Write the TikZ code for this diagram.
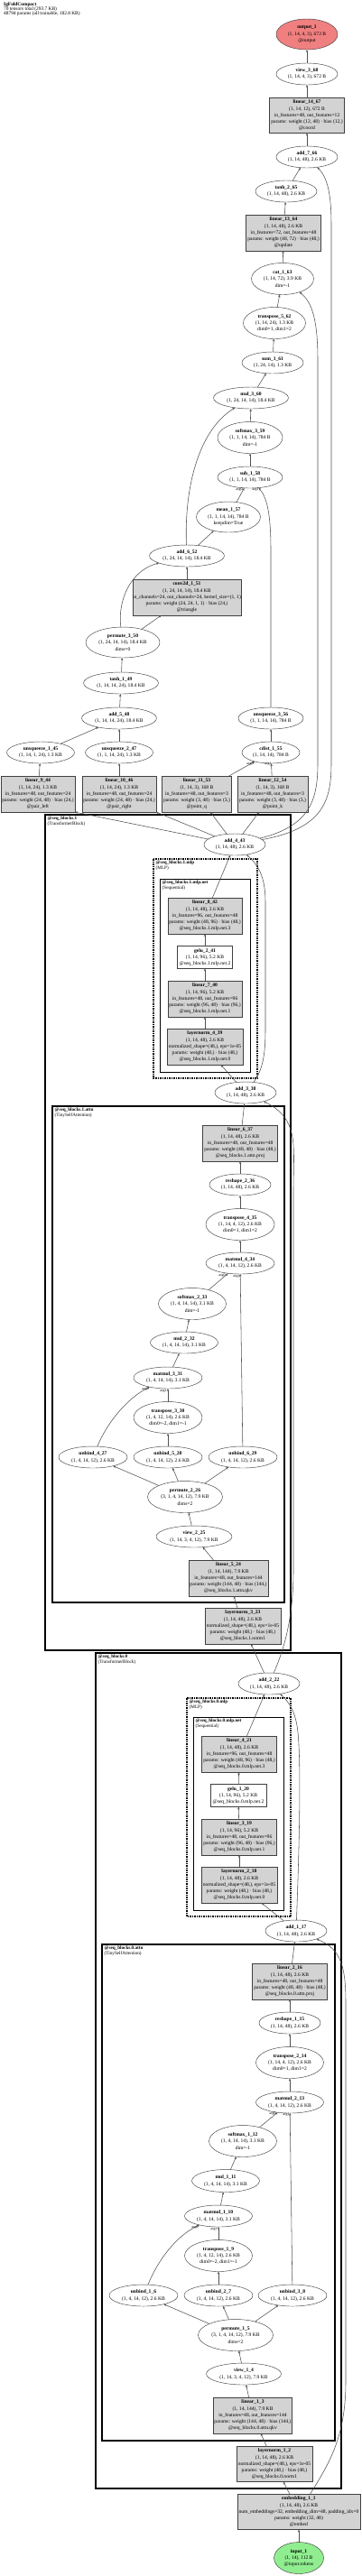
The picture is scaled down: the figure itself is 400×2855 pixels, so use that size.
\documentclass[tikz,border=0pt]{standalone}
\usepackage{fontspec}
\setmainfont{Liberation Serif}
\usetikzlibrary{shapes.geometric,arrows.meta}
\definecolor{gfill}{HTML}{D3D3D3}
\definecolor{redfill}{HTML}{F08080}
\definecolor{greenfill}{HTML}{90EE90}
\definecolor{edgec}{HTML}{505050}
\tikzset{
 base/.style={line width=0.45bp, draw=black!75, inner sep=0, outer sep=0},
 ell/.style={base, ellipse, fill=white},
 gbox/.style={base, rectangle, fill=gfill},
 wbox/.style={base, rectangle, fill=white},
 txt/.style={font=\fontsize{5.6}{7.3}\selectfont, align=center, inner sep=0},
 arr/.style={draw=edgec, line width=0.55bp, -{Stealth[length=3bp,width=2.4bp]}},
 clu/.style={draw=black, line width=1.3bp},
 clud/.style={draw=black, line width=1.2bp, dash pattern=on 1.5bp off 1bp},
 clun/.style={draw=black, line width=1bp},
 clab/.style={font=\fontsize{5.2}{5.6}\selectfont, align=left, anchor=north west, inner sep=0},
 elab/.style={font=\fontsize{4}{4}\selectfont, inner sep=0},
}
\newcommand{\EL}[7][]{\node[ell,#1,minimum width=#5bp,minimum height=#6bp,label={[txt]center:{#7}}] (#2) at (#3,#4) {};}
\newcommand{\BX}[7][]{\node[gbox,#1,minimum width=#5bp,minimum height=#6bp,label={[txt]center:{#7}}] (#2) at (#3,#4) {};}
\begin{document}
\begin{tikzpicture}[x=1bp,y=-1bp]
\useasboundingbox (0,0) rectangle (400,2855);
\fill[white] (0,0) rectangle (400,2855);
\node[anchor=north west, align=left, font=\fontsize{5.4}{5.3}\selectfont, inner sep=0] (title) at (4,2.3) {\textbf{IgFoldCompact}\\70 tensors total (293.7 KB)\\48794 params (all trainable, 182.8 KB)};

% clusters
\draw[clu] (50,903) rectangle (322,1829);
\node[clab] (c1) at (52.5,905) {\textbf{@seq\_blocks.1}\\(TransformerBlock)};
\draw[clud] (170,952) rectangle (285,1195);
\node[clab] (c2) at (172.5,954) {\textbf{@seq\_blocks.1.mlp}\\(MLP)};
\draw[clun] (177,974) rectangle (277,1188);
\node[clab] (c3) at (179.5,976) {\textbf{@seq\_blocks.1.mlp.net}\\(Sequential)};
\draw[clu] (58,1226) rectangle (315,1776);
\node[clab] (c4) at (60.5,1228) {\textbf{@seq\_blocks.1.attn}\\(TinySelfAttention)};
\draw[clu] (106,1832) rectangle (378,2758);
\node[clab] (c5) at (108.5,1834) {\textbf{@seq\_blocks.0}\\(TransformerBlock)};
\draw[clud] (207,1882) rectangle (322,2124);
\node[clab] (c6) at (209.5,1884) {\textbf{@seq\_blocks.0.mlp}\\(MLP)};
\draw[clun] (214,1903) rectangle (314,2117);
\node[clab] (c7) at (216.5,1905) {\textbf{@seq\_blocks.0.mlp.net}\\(Sequential)};
\draw[clu] (113,2155) rectangle (371,2705);
\node[clab] (c8) at (115.5,2157) {\textbf{@seq\_blocks.0.attn}\\(TinySelfAttention)};

% nodes
\EL[fill=redfill]{output_1}{340}{38}{68}{34}{\textbf{output\_1}\\(1, 14, 4, 3), 672 B\\@output}
\EL{view_3_68}{340}{82}{68}{24}{\textbf{view\_3\_68}\\(1, 14, 4, 3), 672 B}
\BX{linear_14_67}{340}{128}{83}{39}{\textbf{linear\_14\_67}\\(1, 14, 12), 672 B\\in\_features=48, out\_features=12\\params: weight (12, 48) · bias (12,)\\@coord}
\EL{add_7_66}{340}{174}{68}{24}{\textbf{add\_7\_66}\\(1, 14, 48), 2.6 KB}
\EL{tanh_2_65}{317}{212}{68}{24}{\textbf{tanh\_2\_65}\\(1, 14, 48), 2.6 KB}
\BX{linear_13_64}{314}{258}{83}{40}{\textbf{linear\_13\_64}\\(1, 14, 48), 2.6 KB\\in\_features=72, out\_features=48\\params: weight (48, 72) · bias (48,)\\@update}
\EL{cat_1_63}{313}{309}{69}{35}{\textbf{cat\_1\_63}\\(1, 14, 72), 3.9 KB\\dim=-1}
\EL{transpose_5_62}{304}{358}{69}{35}{\textbf{transpose\_5\_62}\\(1, 14, 24), 1.3 KB\\dim0=1, dim1=2}
\EL{sum_1_61}{302}{402}{68}{24}{\textbf{sum\_1\_61}\\(1, 24, 14), 1.3 KB}
\EL{mul_3_60}{278}{441}{83}{24}{\textbf{mul\_3\_60}\\(1, 24, 14, 14), 18.4 KB}
\EL{softmax_3_59}{277}{485}{72}{35}{\textbf{softmax\_3\_59}\\(1, 1, 14, 14), 784 B\\dim=-1}
\EL{sub_1_58}{277}{529}{72}{24}{\textbf{sub\_1\_58}\\(1, 1, 14, 14), 784 B}
\EL{mean_1_57}{253}{573}{71}{34}{\textbf{mean\_1\_57}\\(1, 1, 14, 14), 784 B\\keepdim=True}
\EL{add_6_52}{207}{616}{83}{24}{\textbf{add\_6\_52}\\(1, 24, 14, 14), 18.4 KB}
\BX{conv2d_1_51}{207}{662}{120}{40}{\textbf{conv2d\_1\_51}\\(1, 24, 14, 14), 18.4 KB\\in\_channels=24, out\_channels=24, kernel\_size=(1, 1)\\params: weight (24, 24, 1, 1) · bias (24,)\\@triangle}
\EL{permute_3_50}{136}{712}{82}{34}{\textbf{permute\_3\_50}\\(1, 24, 14, 14), 18.4 KB\\dims=0}
\EL{tanh_1_49}{134}{757}{83}{24}{\textbf{tanh\_1\_49}\\(1, 14, 14, 24), 18.4 KB}
\EL{add_5_48}{132}{796}{83}{24}{\textbf{add\_5\_48}\\(1, 14, 14, 24), 18.4 KB}
\EL{unsqueeze_1_45}{45}{834}{75}{24}{\textbf{unsqueeze\_1\_45}\\(1, 14, 1, 24), 1.3 KB}
\EL{unsqueeze_2_47}{132}{834}{75}{24}{\textbf{unsqueeze\_2\_47}\\(1, 1, 14, 24), 1.3 KB}
\EL{unsqueeze_3_56}{300}{796}{72}{24}{\textbf{unsqueeze\_3\_56}\\(1, 1, 14, 14), 784 B}
\EL{cdist_1_55}{300}{834}{64}{24}{\textbf{cdist\_1\_55}\\(1, 14, 14), 784 B}
\BX{linear_9_44}{42}{880}{82}{40}{\textbf{linear\_9\_44}\\(1, 14, 24), 1.3 KB\\in\_features=48, out\_features=24\\params: weight (24, 48) · bias (24,)\\@pair\_left}
\BX{linear_10_46}{132}{880}{82}{40}{\textbf{linear\_10\_46}\\(1, 14, 24), 1.3 KB\\in\_features=48, out\_features=24\\params: weight (24, 48) · bias (24,)\\@pair\_right}
\BX{linear_11_53}{218}{880}{77}{40}{\textbf{linear\_11\_53}\\(1, 14, 3), 168 B\\in\_features=48, out\_features=3\\params: weight (3, 48) · bias (3,)\\@point\_q}
\BX{linear_12_54}{302}{880}{78}{40}{\textbf{linear\_12\_54}\\(1, 14, 3), 168 B\\in\_features=48, out\_features=3\\params: weight (3, 48) · bias (3,)\\@point\_k}
\EL{add_4_43}{260}{936}{68}{24}{\textbf{add\_4\_43}\\(1, 14, 48), 2.6 KB}
\BX{linear_8_42}{227}{1015}{82}{40}{\textbf{linear\_8\_42}\\(1, 14, 48), 2.6 KB\\in\_features=96, out\_features=48\\params: weight (48, 96) · bias (48,)\\@seq\_blocks.1.mlp.net.3}
\BX[fill=white]{gelu_2_41}{227}{1061}{61}{25}{\textbf{gelu\_2\_41}\\(1, 14, 96), 5.2 KB\\@seq\_blocks.1.mlp.net.2}
\BX{linear_7_40}{227}{1107}{82}{40}{\textbf{linear\_7\_40}\\(1, 14, 96), 5.2 KB\\in\_features=48, out\_features=96\\params: weight (96, 48) · bias (96,)\\@seq\_blocks.1.mlp.net.1}
\BX{layernorm_4_39}{227}{1160}{84}{40}{\textbf{layernorm\_4\_39}\\(1, 14, 48), 2.6 KB\\normalized\_shape=(48,), eps=1e-05\\params: weight (48,) · bias (48,)\\@seq\_blocks.1.mlp.net.0}
\EL{add_3_38}{272}{1211}{68}{24}{\textbf{add\_3\_38}\\(1, 14, 48), 2.6 KB}
\BX{linear_6_37}{266}{1267}{83}{40}{\textbf{linear\_6\_37}\\(1, 14, 48), 2.6 KB\\in\_features=48, out\_features=48\\params: weight (48, 48) · bias (48,)\\@seq\_blocks.1.attn.proj}
\EL{reshape_2_36}{266}{1313}{68}{24}{\textbf{reshape\_2\_36}\\(1, 14, 48), 2.6 KB}
\EL{transpose_4_35}{266}{1357}{76}{35}{\textbf{transpose\_4\_35}\\(1, 14, 4, 12), 2.6 KB\\dim0=1, dim1=2}
\EL{matmul_4_34}{266}{1400}{76}{24}{\textbf{matmul\_4\_34}\\(1, 4, 14, 12), 2.6 KB}
\EL{softmax_2_33}{213}{1445}{75}{35}{\textbf{softmax\_2\_33}\\(1, 4, 14, 14), 3.1 KB\\dim=-1}
\EL{mul_2_32}{204}{1488}{75}{24}{\textbf{mul\_2\_32}\\(1, 4, 14, 14), 3.1 KB}
\EL{matmul_3_31}{186}{1527}{76}{24}{\textbf{matmul\_3\_31}\\(1, 4, 14, 14), 3.1 KB}
\EL{transpose_3_30}{186}{1571}{76}{35}{\textbf{transpose\_3\_30}\\(1, 4, 12, 14), 2.6 KB\\dim0=-2, dim1=-1}
\EL{unbind_4_27}{103}{1615}{76}{24}{\textbf{unbind\_4\_27}\\(1, 4, 14, 12), 2.6 KB}
\EL{unbind_5_28}{186}{1615}{76}{24}{\textbf{unbind\_5\_28}\\(1, 4, 14, 12), 2.6 KB}
\EL{unbind_6_29}{269}{1615}{76}{24}{\textbf{unbind\_6\_29}\\(1, 4, 14, 12), 2.6 KB}
\EL{permute_2_26}{205}{1659}{83}{35}{\textbf{permute\_2\_26}\\(3, 1, 4, 14, 12), 7.9 KB\\dims=2}
\EL{view_2_25}{215}{1703}{84}{24}{\textbf{view\_2\_25}\\(1, 14, 3, 4, 12), 7.9 KB}
\BX{linear_5_24}{253}{1749}{88}{40}{\textbf{linear\_5\_24}\\(1, 14, 144), 7.9 KB\\in\_features=48, out\_features=144\\params: weight (144, 48) · bias (144,)\\@seq\_blocks.1.attn.qkv}
\BX{layernorm_3_23}{269}{1802}{84}{40}{\textbf{layernorm\_3\_23}\\(1, 14, 48), 2.6 KB\\normalized\_shape=(48,), eps=1e-05\\params: weight (48,) · bias (48,)\\@seq\_blocks.1.norm1}
\EL{add_2_22}{298}{1866}{68}{24}{\textbf{add\_2\_22}\\(1, 14, 48), 2.6 KB}
\BX{linear_4_21}{265}{1944}{83}{40}{\textbf{linear\_4\_21}\\(1, 14, 48), 2.6 KB\\in\_features=96, out\_features=48\\params: weight (48, 96) · bias (48,)\\@seq\_blocks.0.mlp.net.3}
\BX[fill=white]{gelu_1_20}{264}{1990}{62}{25}{\textbf{gelu\_1\_20}\\(1, 14, 96), 5.2 KB\\@seq\_blocks.0.mlp.net.2}
\BX{linear_3_19}{265}{2036}{83}{40}{\textbf{linear\_3\_19}\\(1, 14, 96), 5.2 KB\\in\_features=48, out\_features=96\\params: weight (96, 48) · bias (96,)\\@seq\_blocks.0.mlp.net.1}
\BX{layernorm_2_18}{265}{2089}{84}{40}{\textbf{layernorm\_2\_18}\\(1, 14, 48), 2.6 KB\\normalized\_shape=(48,), eps=1e-05\\params: weight (48,) · bias (48,)\\@seq\_blocks.0.mlp.net.0}
\EL{add_1_17}{328}{2140}{68}{24}{\textbf{add\_1\_17}\\(1, 14, 48), 2.6 KB}
\BX{linear_2_16}{321}{2196}{83}{40}{\textbf{linear\_2\_16}\\(1, 14, 48), 2.6 KB\\in\_features=48, out\_features=48\\params: weight (48, 48) · bias (48,)\\@seq\_blocks.0.attn.proj}
\EL{reshape_1_15}{321}{2242}{68}{24}{\textbf{reshape\_1\_15}\\(1, 14, 48), 2.6 KB}
\EL{transpose_2_14}{321}{2286}{75}{35}{\textbf{transpose\_2\_14}\\(1, 14, 4, 12), 2.6 KB\\dim0=1, dim1=2}
\EL{matmul_2_13}{321}{2330}{75}{24}{\textbf{matmul\_2\_13}\\(1, 4, 14, 12), 2.6 KB}
\EL{softmax_1_12}{269}{2373}{75}{35}{\textbf{softmax\_1\_12}\\(1, 4, 14, 14), 3.1 KB\\dim=-1}
\EL{mul_1_11}{250}{2417}{75}{25}{\textbf{mul\_1\_11}\\(1, 4, 14, 14), 3.1 KB}
\EL{matmul_1_10}{242}{2456}{75}{24}{\textbf{matmul\_1\_10}\\(1, 4, 14, 14), 3.1 KB}
\EL{transpose_1_9}{242}{2500}{75}{35}{\textbf{transpose\_1\_9}\\(1, 4, 12, 14), 2.6 KB\\dim0=-2, dim1=-1}
\EL{unbind_1_6}{159}{2544}{76}{24}{\textbf{unbind\_1\_6}\\(1, 4, 14, 12), 2.6 KB}
\EL{unbind_2_7}{242}{2544}{76}{24}{\textbf{unbind\_2\_7}\\(1, 4, 14, 12), 2.6 KB}
\EL{unbind_3_8}{324}{2544}{76}{24}{\textbf{unbind\_3\_8}\\(1, 4, 14, 12), 2.6 KB}
\EL{permute_1_5}{261}{2588}{83}{35}{\textbf{permute\_1\_5}\\(3, 1, 4, 14, 12), 7.9 KB\\dims=2}
\EL{view_1_4}{270}{2631}{83}{24}{\textbf{view\_1\_4}\\(1, 14, 3, 4, 12), 7.9 KB}
\BX{linear_1_3}{280}{2677}{87}{40}{\textbf{linear\_1\_3}\\(1, 14, 144), 7.9 KB\\in\_features=48, out\_features=144\\params: weight (144, 48) · bias (144,)\\@seq\_blocks.0.attn.qkv}
\BX{layernorm_1_2}{304}{2731}{84}{39}{\textbf{layernorm\_1\_2}\\(1, 14, 48), 2.6 KB\\normalized\_shape=(48,), eps=1e-05\\params: weight (48,) · bias (48,)\\@seq\_blocks.0.norm1}
\BX{embedding_1_1}{331}{2784}{136}{39}{\textbf{embedding\_1\_1}\\(1, 14, 48), 2.6 KB\\num\_embeddings=32, embedding\_dim=48, padding\_idx=0\\params: weight (32, 48)\\@embed}
\EL[fill=greenfill]{input_1}{331}{2835}{55}{35}{\textbf{input\_1}\\(1, 14), 112 B\\@input.tokens}

% edges
\draw[arr] (input_1) -- (embedding_1_1);
\draw[arr] (embedding_1_1) -- (layernorm_1_2);
\draw[arr] (embedding_1_1) .. controls (365,2730) and (383,2700) .. (383,2640) -- (383,2220) .. controls (383,2180) and (378,2160) .. (add_1_17);
\draw[arr] (layernorm_1_2) -- (linear_1_3);
\draw[arr] (linear_1_3) -- (view_1_4);
\draw[arr] (view_1_4) -- (permute_1_5);
\draw[arr] (permute_1_5) -- (unbind_1_6);
\draw[arr] (permute_1_5) -- (unbind_2_7);
\draw[arr] (permute_1_5) -- (unbind_3_8);
\draw[arr] (unbind_1_6) .. controls (175,2505) and (195,2478) .. (matmul_1_10);
\draw[arr] (unbind_2_7) -- (transpose_1_9);
\draw[arr] (transpose_1_9) -- (matmul_1_10);
\draw[arr] (matmul_1_10) -- (mul_1_11);
\draw[arr] (mul_1_11) -- (softmax_1_12);
\draw[arr] (softmax_1_12) -- (matmul_2_13);
\draw[arr] (unbind_3_8) -- (matmul_2_13);
\draw[arr] (matmul_2_13) -- (transpose_2_14);
\draw[arr] (transpose_2_14) -- (reshape_1_15);
\draw[arr] (reshape_1_15) -- (linear_2_16);
\draw[arr] (linear_2_16) -- (add_1_17);
\draw[arr] (add_1_17) -- (layernorm_2_18);
\draw[arr] (add_1_17) .. controls (331,2060) and (334,1960) .. (330,1920) .. controls (328,1900) and (322,1888) .. (add_2_22);
\draw[arr] (layernorm_2_18) -- (linear_3_19);
\draw[arr] (linear_3_19) -- (gelu_1_20);
\draw[arr] (gelu_1_20) -- (linear_4_21);
\draw[arr] (linear_4_21) -- (add_2_22);
\draw[arr] (add_2_22) -- (layernorm_3_23);
\draw[arr] (add_2_22) .. controls (316,1825) and (325,1790) .. (325,1740) -- (325,1320) .. controls (325,1270) and (332,1240) .. (add_3_38);
\draw[arr] (layernorm_3_23) -- (linear_5_24);
\draw[arr] (linear_5_24) -- (view_2_25);
\draw[arr] (view_2_25) -- (permute_2_26);
\draw[arr] (permute_2_26) -- (unbind_4_27);
\draw[arr] (permute_2_26) -- (unbind_5_28);
\draw[arr] (permute_2_26) -- (unbind_6_29);
\draw[arr] (unbind_4_27) .. controls (118,1578) and (140,1550) .. (matmul_3_31);
\draw[arr] (unbind_5_28) -- (transpose_3_30);
\draw[arr] (transpose_3_30) -- (matmul_3_31);
\draw[arr] (matmul_3_31) -- (mul_2_32);
\draw[arr] (mul_2_32) -- (softmax_2_33);
\draw[arr] (softmax_2_33) -- (matmul_4_34);
\draw[arr] (unbind_6_29) -- (matmul_4_34);
\draw[arr] (matmul_4_34) -- (transpose_4_35);
\draw[arr] (transpose_4_35) -- (reshape_2_36);
\draw[arr] (reshape_2_36) -- (linear_6_37);
\draw[arr] (linear_6_37) -- (add_3_38);
\draw[arr] (add_3_38) -- (layernorm_4_39);
\draw[arr] (add_3_38) .. controls (292,1185) and (294,1165) .. (294,1140) -- (294,1000) .. controls (294,975) and (288,960) .. (add_4_43);
\draw[arr] (layernorm_4_39) -- (linear_7_40);
\draw[arr] (linear_7_40) -- (gelu_2_41);
\draw[arr] (gelu_2_41) -- (linear_8_42);
\draw[arr] (linear_8_42) -- (add_4_43);
\draw[arr] (add_4_43) -- (linear_9_44.south east);
\draw[arr] (add_4_43) -- (linear_10_46.south east);
\draw[arr] (add_4_43) -- (linear_11_53);
\draw[arr] (add_4_43) -- (linear_12_54);
\draw[arr] (add_4_43) .. controls (345,915) and (352,885) .. (352,845) -- (352,400) .. controls (352,355) and (346,335) .. (cat_1_63);
\draw[arr] (add_4_43) .. controls (360,918) and (367,885) .. (367,845) -- (367,250) .. controls (367,212) and (362,196) .. (add_7_66);
\draw[arr] (linear_9_44) -- (unsqueeze_1_45);
\draw[arr] (linear_10_46) -- (unsqueeze_2_47);
\draw[arr] (unsqueeze_1_45) -- (add_5_48);
\draw[arr] (unsqueeze_2_47) -- (add_5_48);
\draw[arr] (add_5_48) -- (tanh_1_49);
\draw[arr] (tanh_1_49) -- (permute_3_50);
\draw[arr] (permute_3_50) -- (conv2d_1_51);
\draw[arr] (permute_3_50) .. controls (130,665) and (145,632) .. (add_6_52);
\draw[arr] (conv2d_1_51) -- (add_6_52);
\draw[arr] (add_6_52) -- (mean_1_57);
\draw[arr] (add_6_52) .. controls (204,545) and (218,478) .. (mul_3_60);
\draw[arr] (linear_11_53) -- (cdist_1_55);
\draw[arr] (linear_12_54) -- (cdist_1_55);
\draw[arr] (cdist_1_55) -- (unsqueeze_3_56);
\draw[arr] (mean_1_57) -- (sub_1_58);
\draw[arr] (unsqueeze_3_56) -- (300,610) .. controls (300,570) and (296,552) .. (sub_1_58);
\draw[arr] (sub_1_58) -- (softmax_3_59);
\draw[arr] (softmax_3_59) -- (mul_3_60);
\draw[arr] (mul_3_60) -- (sum_1_61);
\draw[arr] (sum_1_61) -- (transpose_5_62);
\draw[arr] (transpose_5_62) -- (cat_1_63);
\draw[arr] (cat_1_63) -- (linear_13_64);
\draw[arr] (linear_13_64) -- (tanh_2_65);
\draw[arr] (tanh_2_65) -- (add_7_66);
\draw[arr] (add_7_66) -- (linear_14_67);
\draw[arr] (linear_14_67) -- (view_3_68);
\draw[arr] (view_3_68) -- (output_1);

% edge labels
\node[elab] (e1) at (265,543) {arg0};
\node[elab] (e2) at (283,543) {arg1};
\node[elab] (e3) at (277,847) {arg0};
\node[elab] (e4) at (297,847) {arg1};
\node[elab] (e5) at (246,1414) {arg0};
\node[elab] (e6) at (262,1415) {arg1};
\node[elab] (e7) at (161,1540) {arg0};
\node[elab] (e8) at (181,1542) {arg1};
\node[elab] (e9) at (302,2343) {arg0};
\node[elab] (e10) at (317,2344) {arg1};
\node[elab] (e11) at (216,2469) {arg0};
\node[elab] (e12) at (237,2471) {arg1};
\end{tikzpicture}
\end{document}
